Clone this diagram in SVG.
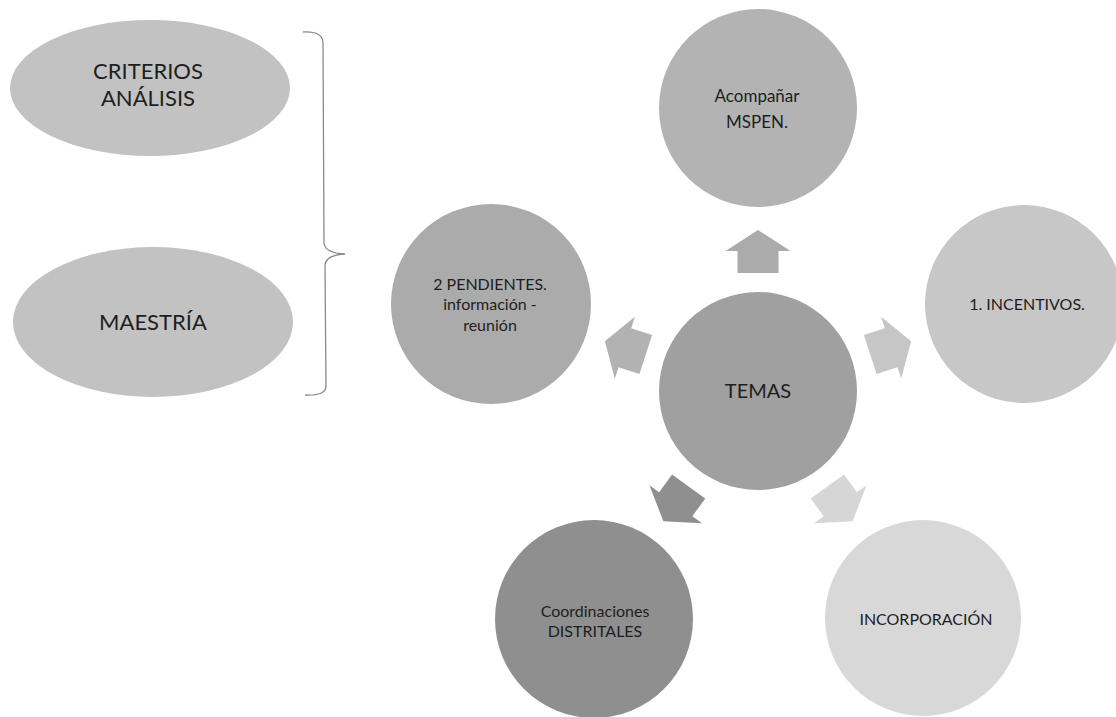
<svg xmlns="http://www.w3.org/2000/svg" xmlns:xlink="http://www.w3.org/1999/xlink" width="1116" height="717" viewBox="0 0 1116 717">
<style>
text{font-family:Lato,"Open Sans","Noto Sans",sans-serif;fill:#1e1e1e;text-anchor:middle}
.big{font-size:22px}
.mid{font-size:20px}
.sm{font-size:16px}
.md{font-size:16px}
.lg{font-size:17px}
.brace{fill:none;stroke:#8a8a8a;stroke-width:1.3}
</style>
<defs>
<path id="arr" d="M118,-20.5 H140 V-32.5 L161,0 L140,32.5 V20.5 H118 Z"/>
</defs>
<rect width="1116" height="717" fill="#ffffff"/>
<g id="connectors">
<use xlink:href="#arr" href="#arr" transform="translate(758,391) rotate(-90)" fill="#ababab"/>
<use xlink:href="#arr" href="#arr" transform="translate(758,391) rotate(-18)" fill="#c6c6c6"/>
<use xlink:href="#arr" href="#arr" transform="translate(758,391) rotate(54)" fill="#d6d6d6"/>
<use xlink:href="#arr" href="#arr" transform="translate(758,391) rotate(126)" fill="#8f8f8f"/>
<use xlink:href="#arr" href="#arr" transform="translate(758,391) rotate(198)" fill="#b2b2b2"/>
<path class="brace" d="M303,32 Q322,31 323,42 L324,243 Q325,253 345,254 Q326,255 325,265 L326,386 Q326,396 305,395"/>
</g>
<g id="criterios">
<ellipse cx="150" cy="88" rx="140" ry="68" fill="#c2c2c2"/>
<text class="big" x="148" y="79">CRITERIOS</text>
<text class="big" x="148" y="106">ANÁLISIS</text>
</g>
<g id="maestria">
<ellipse cx="153" cy="322" rx="140" ry="75" fill="#c2c2c2"/>
<text class="big" x="153" y="330">MAESTRÍA</text>
</g>
<g id="temas">
<circle cx="758" cy="391" r="99" fill="#a0a0a0"/>
<text class="mid" x="758" y="398">TEMAS</text>
</g>
<g id="acompanar">
<circle cx="758" cy="108" r="99" fill="#b3b3b3"/>
<text class="lg" x="757" y="102">Acompañar</text>
<text class="lg" x="757" y="128">MSPEN.</text>
</g>
<g id="incentivos">
<circle cx="1024" cy="304" r="99" fill="#c7c7c7"/>
<text class="md" x="1027" y="310">1. INCENTIVOS.</text>
</g>
<g id="incorporacion">
<circle cx="923" cy="618" r="98" fill="#d8d8d8"/>
<text class="md" x="926" y="625">INCORPORACIÓN</text>
</g>
<g id="coordinaciones">
<circle cx="594" cy="619" r="99" fill="#8f8f8f"/>
<text class="sm" x="595" y="617">Coordinaciones</text>
<text class="sm" x="595" y="637">DISTRITALES</text>
</g>
<g id="pendientes">
<circle cx="491" cy="304" r="100" fill="#ababab"/>
<text class="sm" x="490" y="290">2 PENDIENTES.</text>
<text class="sm" x="490" y="310">información -</text>
<text class="sm" x="490" y="331">reunión</text>
</g>
</svg>
